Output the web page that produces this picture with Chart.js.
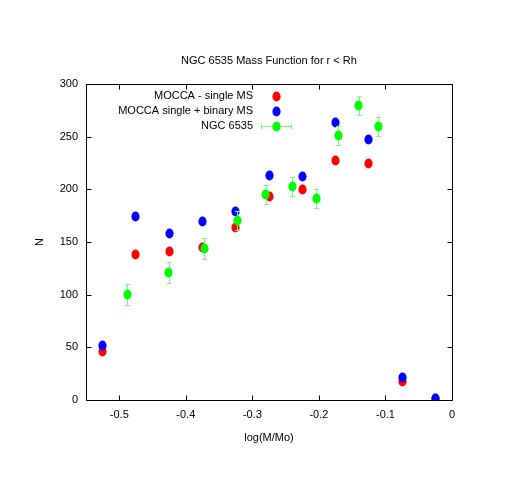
<!DOCTYPE html>
<html>
<head>
<meta charset="utf-8">
<script src="https://cdn.jsdelivr.net/npm/chart.js@4.4.1/dist/chart.umd.min.js"></script>
<style>
  body { margin: 0; background: #fff; }
  canvas { display: block; }
</style>
</head>
<body>
<canvas id="mfChart" width="523" height="480"></canvas>
<script>
// data
const xModel = [-0.525, -0.475, -0.425, -0.375, -0.325, -0.275, -0.225, -0.175, -0.125, -0.075, -0.025];
const singleMS = [46, 138, 141, 145, 164, 193, 200, 227, 225, 18, 1];
const binaryMS = [52, 174, 158, 169, 179, 213, 212, 263, 247, 21, 1];
const xObs = [-0.488, -0.426, -0.372, -0.323, -0.280, -0.240, -0.204, -0.171, -0.140, -0.111];
const ngc6535 = [100, 121, 144, 170, 195, 203, 191, 251, 280, 260];
const ngcErr = [10, 10, 10, 9, 9, 9, 9, 9, 9, 9];
const xTicks = [-0.5, -0.4, -0.3, -0.2, -0.1, 0];
const yTicks = [0, 50, 100, 150, 200, 250, 300];
const labels = ['MOCCA - single MS', 'MOCCA single + binary MS', 'NGC 6535'];

const FONT = 'Liberation Sans, Arial, sans-serif';
const FSIZE = 11;
const ERR_COLOR = '#77ff77';

function makeDot(color) {
    const c = document.createElement('canvas');
    c.width = 9;
    c.height = 11;
    const g = c.getContext('2d');
    g.fillStyle = color;
    g.beginPath();
    g.ellipse(4.5, 5.5, 4.1, 5.1, 0, 0, Math.PI * 2);
    g.fill();
    return c;
}
const redDot = makeDot('#ff0000');
const blueDot = makeDot('#0000ff');
const greenDot = makeDot('#00ff00');

function toPoints(xs, ys) {
    return xs.map((x, i) => ({ x: x, y: ys[i] }));
}

// no smoothing when the dot images are stamped, avoids a dark rim
const crispDots = {
    id: 'crispDots',
    beforeDatasetsDraw(chart) { chart.ctx.imageSmoothingEnabled = false; },
    afterDatasetsDraw(chart) { chart.ctx.imageSmoothingEnabled = true; }
};

// error bars for the observed points, drawn just before the green dots
const errorBars = {
    id: 'errorBars',
    beforeDatasetDraw(chart, args) {
        if (args.index !== 2) return;
        const ctx = chart.ctx;
        const xs = chart.scales.x, ys = chart.scales.y;
        ctx.save();
        ctx.strokeStyle = ERR_COLOR;
        ctx.lineWidth = 1;
        ctx.beginPath();
        xObs.forEach((x, i) => {
            const px = Math.round(xs.getPixelForValue(x)) + 0.5;
            const top = Math.round(ys.getPixelForValue(ngc6535[i] + ngcErr[i])) + 0.5;
            const bot = Math.round(ys.getPixelForValue(ngc6535[i] - ngcErr[i])) + 0.5;
            ctx.moveTo(px, top); ctx.lineTo(px, bot);
            ctx.moveTo(px - 2.5, top); ctx.lineTo(px + 2.5, top);
            ctx.moveTo(px - 2.5, bot); ctx.lineTo(px + 2.5, bot);
        });
        ctx.stroke();
        ctx.restore();
    }
};

// gnuplot style frame with inward ticks on all four sides
const frame = {
    id: 'frame',
    afterDatasetsDraw(chart) {
        const ctx = chart.ctx;
        const a = chart.chartArea;
        const xs = chart.scales.x, ys = chart.scales.y;
        const L = Math.round(a.left) + 0.5, R = Math.round(a.right) + 0.5;
        const T = Math.round(a.top) + 0.5, B = Math.round(a.bottom) + 0.5;
        ctx.save();
        ctx.strokeStyle = '#000';
        ctx.lineWidth = 1;
        ctx.beginPath();
        ctx.rect(L, T, R - L, B - T);
        xTicks.forEach(v => {
            const px = Math.round(xs.getPixelForValue(v)) + 0.5;
            ctx.moveTo(px, B); ctx.lineTo(px, B - 5);
            ctx.moveTo(px, T); ctx.lineTo(px, T + 5);
        });
        yTicks.forEach(v => {
            const py = Math.round(ys.getPixelForValue(v)) + 0.5;
            ctx.moveTo(L, py); ctx.lineTo(L + 5, py);
            ctx.moveTo(R, py); ctx.lineTo(R - 5, py);
        });
        ctx.stroke();
        ctx.restore();
    }
};

// key in the top left, text right aligned, marker to the right of it
const key = {
    id: 'key',
    afterDraw(chart) {
        const ctx = chart.ctx;
        const dots = [redDot, blueDot, greenDot];
        const textRight = 253, markX = 276;
        const rows = [96, 111, 126];
        ctx.save();
        ctx.font = FSIZE + 'px ' + FONT;
        ctx.fillStyle = '#000';
        ctx.textAlign = 'right';
        ctx.textBaseline = 'middle';
        labels.forEach((t, i) => {
            ctx.fillText(t, textRight, rows[i]);
        });
        ctx.strokeStyle = ERR_COLOR;
        ctx.beginPath();
        const y = rows[2] + 0.5;
        ctx.moveTo(261, y); ctx.lineTo(291, y);
        ctx.moveTo(261.5, y - 3); ctx.lineTo(261.5, y + 3);
        ctx.moveTo(291.5, y - 3); ctx.lineTo(291.5, y + 3);
        ctx.stroke();
        dots.forEach((d, i) => {
            ctx.drawImage(d, markX - 4, rows[i] - 5);
        });
        ctx.restore();
    }
};

const ctx = document.getElementById('mfChart').getContext('2d');
const mfChart = new Chart(ctx, {
    type: 'scatter',
    data: {
        datasets: [{
            label: labels[0],
            data: toPoints(xModel, singleMS),
            pointStyle: redDot,
            order: 3
        }, {
            label: labels[1],
            data: toPoints(xModel, binaryMS),
            pointStyle: blueDot,
            order: 2
        }, {
            label: labels[2],
            data: toPoints(xObs, ngc6535),
            pointStyle: greenDot,
            order: 1
        }]
    },
    options: {
        responsive: false,
        animation: false,
        devicePixelRatio: 1,
        layout: { padding: { left: 0, right: 71, top: 0, bottom: 0 } },
        plugins: {
            legend: { display: false },
            tooltip: { enabled: false },
            title: {
                display: true,
                fullSize: false,
                text: 'NGC 6535 Mass Function for r < Rh',
                color: '#000',
                font: { family: FONT, size: FSIZE, weight: 'normal' },
                padding: { top: 54, bottom: 16.8 }
            }
        },
        scales: {
            x: {
                type: 'linear',
                min: -0.55,
                max: 0,
                afterBuildTicks: axis => { axis.ticks = xTicks.map(v => ({ value: v })); },
                afterFit: axis => { axis.height = 80; },
                ticks: {
                    color: '#000',
                    font: { family: FONT, size: FSIZE },
                    padding: 8,
                    maxRotation: 0,
                    callback: v => (v === 0 ? '0' : v.toFixed(1))
                },
                grid: { display: false, drawTicks: false },
                border: { display: false },
                title: {
                    display: true,
                    text: 'log(M/Mo)',
                    color: '#000',
                    font: { family: FONT, size: FSIZE },
                    padding: { top: 0, bottom: 35.4 }
                }
            },
            y: {
                type: 'linear',
                min: 0,
                max: 300,
                afterBuildTicks: axis => { axis.ticks = yTicks.map(v => ({ value: v })); },
                afterFit: axis => { axis.width = 86; },
                ticks: {
                    color: '#000',
                    font: { family: FONT, size: FSIZE },
                    padding: 8
                },
                grid: { display: false, drawTicks: false },
                border: { display: false },
                title: {
                    display: true,
                    text: 'N',
                    color: '#000',
                    font: { family: FONT, size: FSIZE },
                    padding: { top: 33.4, bottom: 0 }
                }
            }
        }
    },
    plugins: [crispDots, errorBars, frame, key]
});
</script>
</body>
</html>
